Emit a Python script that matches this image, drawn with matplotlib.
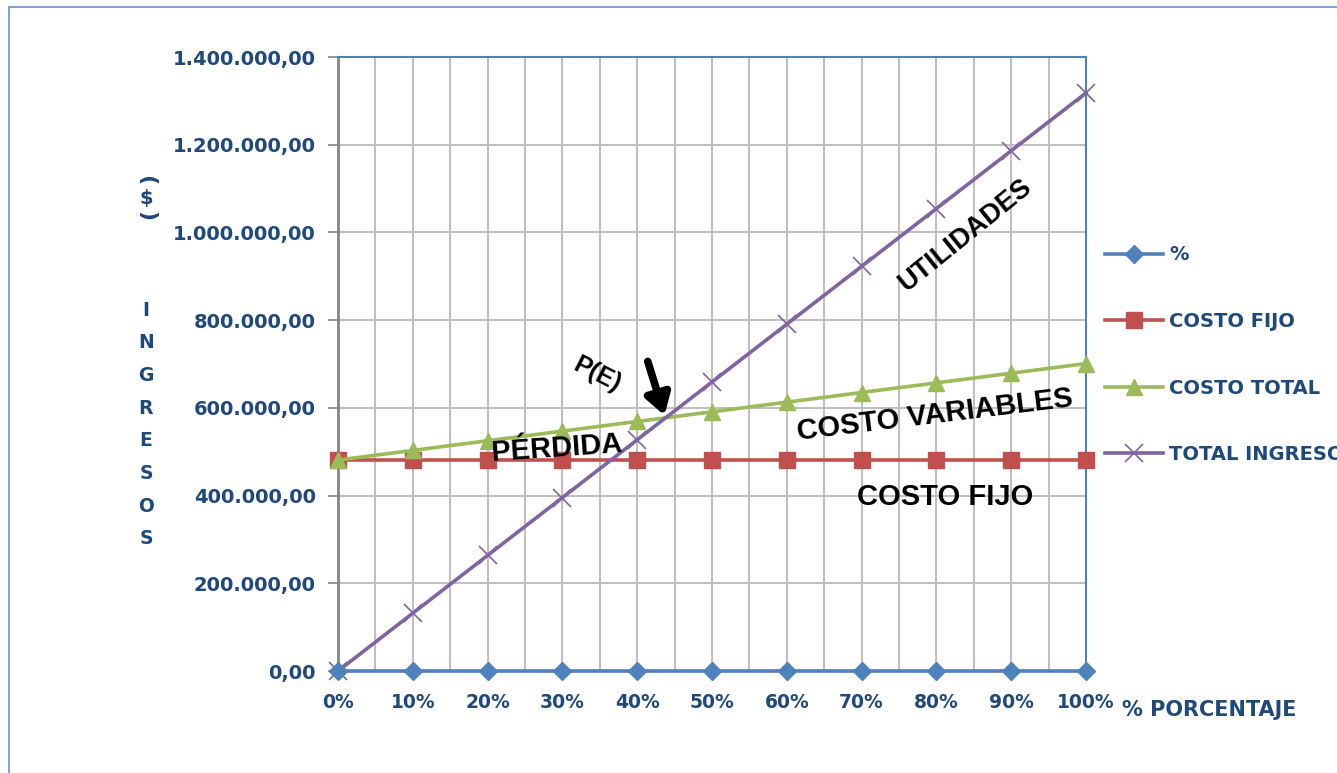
import matplotlib
matplotlib.use("Agg")
import matplotlib.pyplot as plt
from matplotlib.patches import Rectangle
from matplotlib.ticker import MultipleLocator, FuncFormatter

# -----------------------------
# Datos
# -----------------------------
porcentaje = [0.0, 0.1, 0.2, 0.3, 0.4, 0.5, 0.6, 0.7, 0.8, 0.9, 1.0]
serie_pct = [0, 0, 0, 0, 0, 0, 0, 0, 0, 0, 0]
costo_fijo = [481000] * 11
costo_total = [481000, 503000, 525000, 547000, 569000, 591000,
               613000, 635000, 657000, 679000, 701000]
total_ingreso = [0, 131800, 263600, 395400, 527200, 659000,
                 790800, 922600, 1054400, 1186200, 1318000]
x_labels = ["0%", "10%", "20%", "30%", "40%", "50%",
            "60%", "70%", "80%", "90%", "100%"]
punto_equilibrio = (0.4376, 576800)

azul_txt = "#1F497D"
c_pct = "#4F81BD"
c_fijo = "#C0504D"
c_total = "#9BBB59"
c_ing = "#8064A2"

fig = plt.figure(figsize=(13.37, 7.73), dpi=100)
ax = fig.add_axes([338 / 1337, 1 - 671 / 773, 748 / 1337, 614 / 773])

# marco exterior del grafico
fig.patches.append(Rectangle((9 / 1337, -0.1), 1.2, 1 - 7 / 773 + 0.1,
                             transform=fig.transFigure, fill=False,
                             edgecolor="#7EA3D6", lw=1.5))

ax.plot(porcentaje, serie_pct, color=c_pct, lw=2.6, marker="D", ms=9,
        label="%", zorder=5, clip_on=False)
ax.plot(porcentaje, costo_fijo, color=c_fijo, lw=2.6, marker="s", ms=11,
        label="COSTO FIJO", zorder=4, clip_on=False)
ax.plot(porcentaje, costo_total, color=c_total, lw=2.6, marker="^", ms=12,
        label="COSTO TOTAL", zorder=4, clip_on=False)
ax.plot(porcentaje, total_ingreso, color=c_ing, lw=2.6, marker="x", ms=13,
        mew=1.2, label="TOTAL INGRESO", zorder=4, clip_on=False)

ax.set_xlim(0, 1)
ax.set_ylim(0, 1400000)
ax.xaxis.set_minor_locator(MultipleLocator(0.05))
ax.set_xticks(porcentaje)
ax.set_xticklabels(x_labels)
ax.yaxis.set_major_locator(MultipleLocator(200000))
ax.yaxis.set_major_formatter(FuncFormatter(
    lambda v, p: f"{v:,.2f}".replace(",", "X").replace(".", ",").replace("X", ".")))

ax.grid(True, which="both", axis="x", color="#BFBFBF", lw=1.4)
ax.grid(True, which="major", axis="y", color="#BFBFBF", lw=1.4)
ax.set_axisbelow(True)

ax.tick_params(axis="x", which="both", length=0, pad=16,
               labelsize=13.5, labelcolor=azul_txt)
ax.tick_params(axis="y", length=7, width=1.2, color="#868686", pad=9,
               labelsize=14, labelcolor=azul_txt)
for lab in ax.get_xticklabels() + ax.get_yticklabels():
    lab.set_fontweight("bold")

ax.spines["left"].set_color("#868686")
ax.spines["left"].set_linewidth(2)
ax.spines["top"].set_color(c_pct)
ax.spines["right"].set_color(c_pct)
ax.spines["top"].set_linewidth(1.5)
ax.spines["right"].set_linewidth(1.5)
ax.spines["bottom"].set_color(c_pct)

# titulo eje y en letras apiladas
fig.text(146 / 1337, 1 - 180 / 773, "(", rotation=-90, ha="center", va="center",
         fontsize=16, color=azul_txt, fontweight="bold")
fig.text(146 / 1337, 1 - 198 / 773, "$", ha="center", va="center",
         fontsize=14, color=azul_txt, fontweight="bold")
fig.text(146 / 1337, 1 - 216 / 773, ")", rotation=-90, ha="center", va="center",
         fontsize=16, color=azul_txt, fontweight="bold")
for i, letra in enumerate("INGRESOS"):
    fig.text(146 / 1337, 1 - (310 + i * 32.7) / 773, letra, ha="center",
             va="center", fontsize=13.5, color=azul_txt, fontweight="bold")

fig.text(1122 / 1337, 1 - 710 / 773, "% PORCENTAJE", ha="left", va="center",
         fontsize=15, color=azul_txt, fontweight="bold")

# anotaciones
txt_kw = dict(color="black", fontweight="bold", family="Liberation Sans",
              ha="center", va="center", zorder=6)
ax.text(0.838, 994000, "UTILIDADES", rotation=39, fontsize=19.5, **txt_kw)
ax.text(0.346, 675000, "P(E)", rotation=-27, fontsize=18, **txt_kw)
ax.text(0.293, 508000, "PÉRDIDA", rotation=4, fontsize=21, **txt_kw)
ax.text(0.798, 584000, "COSTO VARIABLES", rotation=7, fontsize=21, **txt_kw)
ax.text(0.811, 397000, "COSTO FIJO", fontsize=21, **txt_kw)
ax.annotate("", xy=punto_equilibrio, xytext=(0.413, 712000),
            arrowprops=dict(arrowstyle="-|>,head_length=1.2,head_width=0.75",
                            color="black", lw=5.5), zorder=7)

leg = ax.legend(loc="center left", bbox_to_anchor=(1.015, 0.515),
                frameon=False, fontsize=14, labelspacing=2.45,
                handlelength=3.0, handletextpad=0.3, borderaxespad=0)
for t in leg.get_texts():
    t.set_color(azul_txt)
    t.set_fontweight("bold")

fig.savefig("out.png", dpi=100)
